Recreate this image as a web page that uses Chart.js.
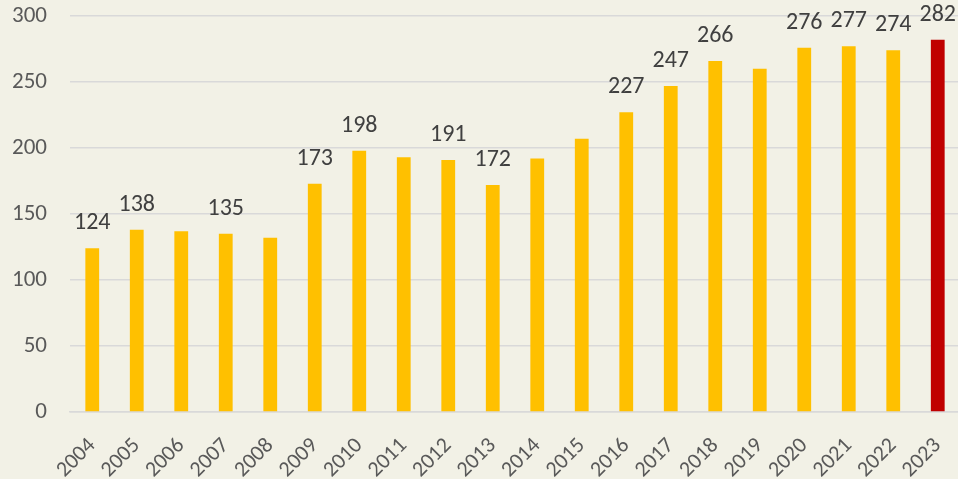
<!DOCTYPE html>
<html>
<head>
<meta charset="utf-8">
<script src="https://cdn.jsdelivr.net/npm/chart.js@4"></script>
<style>
  html, body { margin: 0; padding: 0; background: #F2F1E6; overflow: hidden; }
  #wrap { width: 962px; height: 479px; position: relative; }
</style>
</head>
<body>
<div id="wrap"><canvas id="myChart"></canvas></div>
<script>
/* data */
const years = ['2004','2005','2006','2007','2008','2009','2010','2011','2012','2013',
               '2014','2015','2016','2017','2018','2019','2020','2021','2022','2023'];
const counts = [124, 138, 137, 135, 132, 173, 198, 193, 191, 172,
                192, 207, 227, 247, 266, 260, 276, 277, 274, 282];
// years that carry a value label in the original
const labelled = ['2004','2005','2007','2009','2010','2012','2013','2016','2017',
                  '2018','2020','2021','2022','2023'];
const yTicks = [0, 50, 100, 150, 200, 250, 300];

const FONT = 'Calibri, Carlito, Lato, sans-serif';

const barColors = years.map(y => y === '2023' ? '#C00000' : '#FFC000');

// draw the numbers above the bars
const valueLabels = {
  id: 'valueLabels',
  afterDatasetsDraw(chart) {
    const ctx = chart.ctx;
    const meta = chart.getDatasetMeta(0);
    ctx.save();
    ctx.font = '24px ' + FONT;
    ctx.fillStyle = '#404040';
    ctx.textAlign = 'center';
    ctx.textBaseline = 'middle';
    meta.data.forEach((bar, i) => {
      if (!labelled.includes(years[i])) return;
      ctx.fillText(String(counts[i]), bar.x, bar.y - 25);
    });
    ctx.restore();
  }
};

const myChart = new Chart(document.getElementById('myChart'), {
  type: 'bar',
  plugins: [valueLabels],
  data: {
    labels: years,
    datasets: [{
      data: counts,
      backgroundColor: barColors,
      borderWidth: 0,
      barPercentage: 0.31,
      categoryPercentage: 1.0
    }]
  },
  options: {
    responsive: true,
    maintainAspectRatio: false,
    animation: false,
    events: [],
    layout: { padding: { top: 16, right: 2, left: 0, bottom: 0 } },
    plugins: {
      legend: { display: false },
      title: { display: false },
      tooltip: { enabled: false }
    },
    scales: {
      y: {
        min: 0,
        max: 300,
        afterBuildTicks: axis => { axis.ticks = yTicks.map(v => ({ value: v })); },
        afterFit: axis => {
          axis.width = 70;
          axis.paddingTop = 0;
          axis.paddingBottom = 0;
        },
        border: { display: false },
        grid: { color: '#D9D9D9', lineWidth: 1.5, drawTicks: false },
        ticks: {
          color: '#595959',
          padding: 23,
          font: { family: FONT, size: 23 }
        }
      },
      x: {
        afterFit: axis => {
          axis.height = 67;
          axis.paddingLeft = 0;
          axis.paddingRight = 0;
        },
        border: { display: true, color: '#D9D9D9', width: 1.5 },
        grid: { display: false },
        ticks: {
          color: '#595959',
          minRotation: 45,
          maxRotation: 45,
          autoSkip: false,
          padding: 13,
          font: { family: FONT, size: 22 }
        }
      }
    }
  }
});
</script>
</body>
</html>
